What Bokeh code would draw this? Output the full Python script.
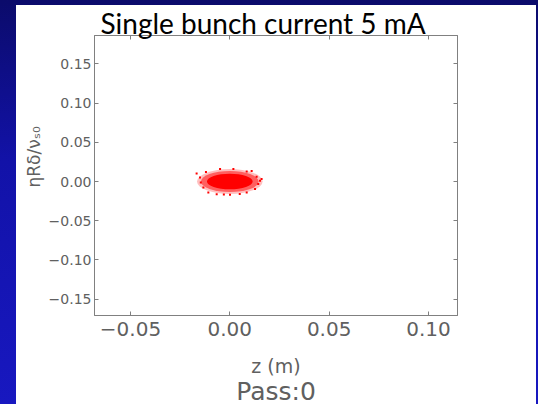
from bokeh.plotting import figure
from bokeh.models import (Title, LinearAxis, FixedTicker, Range1d, Column)
from bokeh.embed import file_html
from bokeh.resources import INLINE

# ---- data ----
title_text = "Single bunch current 5 mA"
x_label = "z (m)"
pass_label = "Pass:0"
y_label = "ηRδ/νₛ₀"

x_ticks = [-0.05, 0.0, 0.05, 0.10]
x_tick_labels = ["\u22120.05", "0.00", "0.05", "0.10"]
y_ticks = [-0.15, -0.10, -0.05, 0.0, 0.05, 0.10, 0.15]
y_tick_labels = ["\u22120.15", "\u22120.10", "\u22120.05", "0.00", "0.05", "0.10", "0.15"]
x_limits = (-0.0681, 0.1146)
y_limits = (-0.1708, 0.1861)

# bunch cloud: centre and density layers (width in z, height in eta R delta / nu_s0)
cloud_z = [0.0, 0.0, 0.0]
cloud_y = [0.0, 0.0, 0.0]
cloud_w = [0.033, 0.029, 0.023]
cloud_h = [0.032, 0.027, 0.020]
cloud_alpha = [0.25, 0.5, 1.0]

# stray macro-particles at the edge of the cloud
stray_z = [-0.0167, -0.0146, -0.0133, -0.0108, 0.0152, 0.0143, 0.0127, 0.0085,
           -0.0049, 0.0018, 0.0085, -0.0066, 0.0001, 0.0135, -0.0150, 0.0160,
           -0.0120, 0.0110, -0.0030, 0.0050]
stray_y = [0.0102, -0.0013, -0.0077, -0.0140, 0.0009, -0.0033, -0.0097, -0.0140,
           0.0158, 0.0158, 0.0128, -0.0161, -0.0170, 0.0060, 0.0051, 0.0031,
           0.0120, 0.0135, -0.0165, -0.0160]

gray = "#808080"
label_gray = "#606060"

p = figure(width=520, height=404, output_backend="svg", toolbar_location=None,
           x_range=Range1d(*x_limits), y_range=Range1d(*y_limits),
           min_border_left=78, min_border_right=79, min_border_top=35,
           min_border_bottom=89, margin=(0, 2, 0, 16),
           styles={"background": "linear-gradient(to bottom, transparent 5px, white 5px)"})
p.background_fill_color = "white"
p.border_fill_color = None
p.outline_line_color = gray
p.xgrid.visible = False
p.ygrid.visible = False

# cloud
for w, h, a in zip(cloud_w, cloud_h, cloud_alpha):
    p.ellipse(x=cloud_z[:1], y=cloud_y[:1], width=[w], height=[h],
              fill_color="red", fill_alpha=a, line_color=None)
p.scatter(x=stray_z, y=stray_y, marker="square", size=2, color="red", line_color=None)

# axes styling
def style_axis(ax, ticks, labels, size, standoff, show_labels=True):
    ax.ticker = FixedTicker(ticks=ticks)
    ax.major_label_overrides = {t: l for t, l in zip(ticks, labels)}
    ax.axis_line_color = gray
    ax.major_tick_line_color = gray
    ax.major_tick_in = 4
    ax.major_tick_out = 0
    ax.minor_tick_line_color = None
    ax.major_label_text_font = "DejaVu Sans"
    ax.major_label_text_font_size = size
    ax.major_label_text_color = label_gray if show_labels else None
    ax.major_label_standoff = standoff

style_axis(p.xaxis[0], x_ticks, x_tick_labels, "20px", 6)
style_axis(p.yaxis[0], y_ticks, y_tick_labels, "14px", 3)

xa = p.xaxis[0]
xa.axis_label = x_label
xa.axis_label_text_font = "DejaVu Sans"
xa.axis_label_text_font_size = "19px"
xa.axis_label_text_font_style = "normal"
xa.axis_label_text_color = label_gray
xa.axis_label_standoff = 16

top_ax = LinearAxis()
style_axis(top_ax, x_ticks, x_tick_labels, "0px", 0, show_labels=False)
p.add_layout(top_ax, "above")
right_ax = LinearAxis()
style_axis(right_ax, y_ticks, y_tick_labels, "0px", 0, show_labels=False)
p.add_layout(right_ax, "right")

p.add_layout(Title(text=y_label, align="left", offset=128, text_font="DejaVu Sans",
                   text_font_size="17px", text_font_style="normal",
                   text_color=label_gray, standoff=4), "left")
p.add_layout(Title(text=pass_label, align="center", text_font="DejaVu Sans",
                   text_font_size="25px", text_font_style="normal",
                   text_color=label_gray, standoff=-10), "below")
p.add_layout(Title(text=title_text, align="left", offset=6, text_font="Lato",
                   text_font_size="28px", text_font_style="normal",
                   text_color="black", standoff=-9), "above")

layout = Column(p, width=538, height=404,
                styles={"background": "linear-gradient(to bottom, #0b0b6b 0%, #1212a8 40%, #1818c0 100%)"})

open("out.html", "w").write(file_html(layout, INLINE))
